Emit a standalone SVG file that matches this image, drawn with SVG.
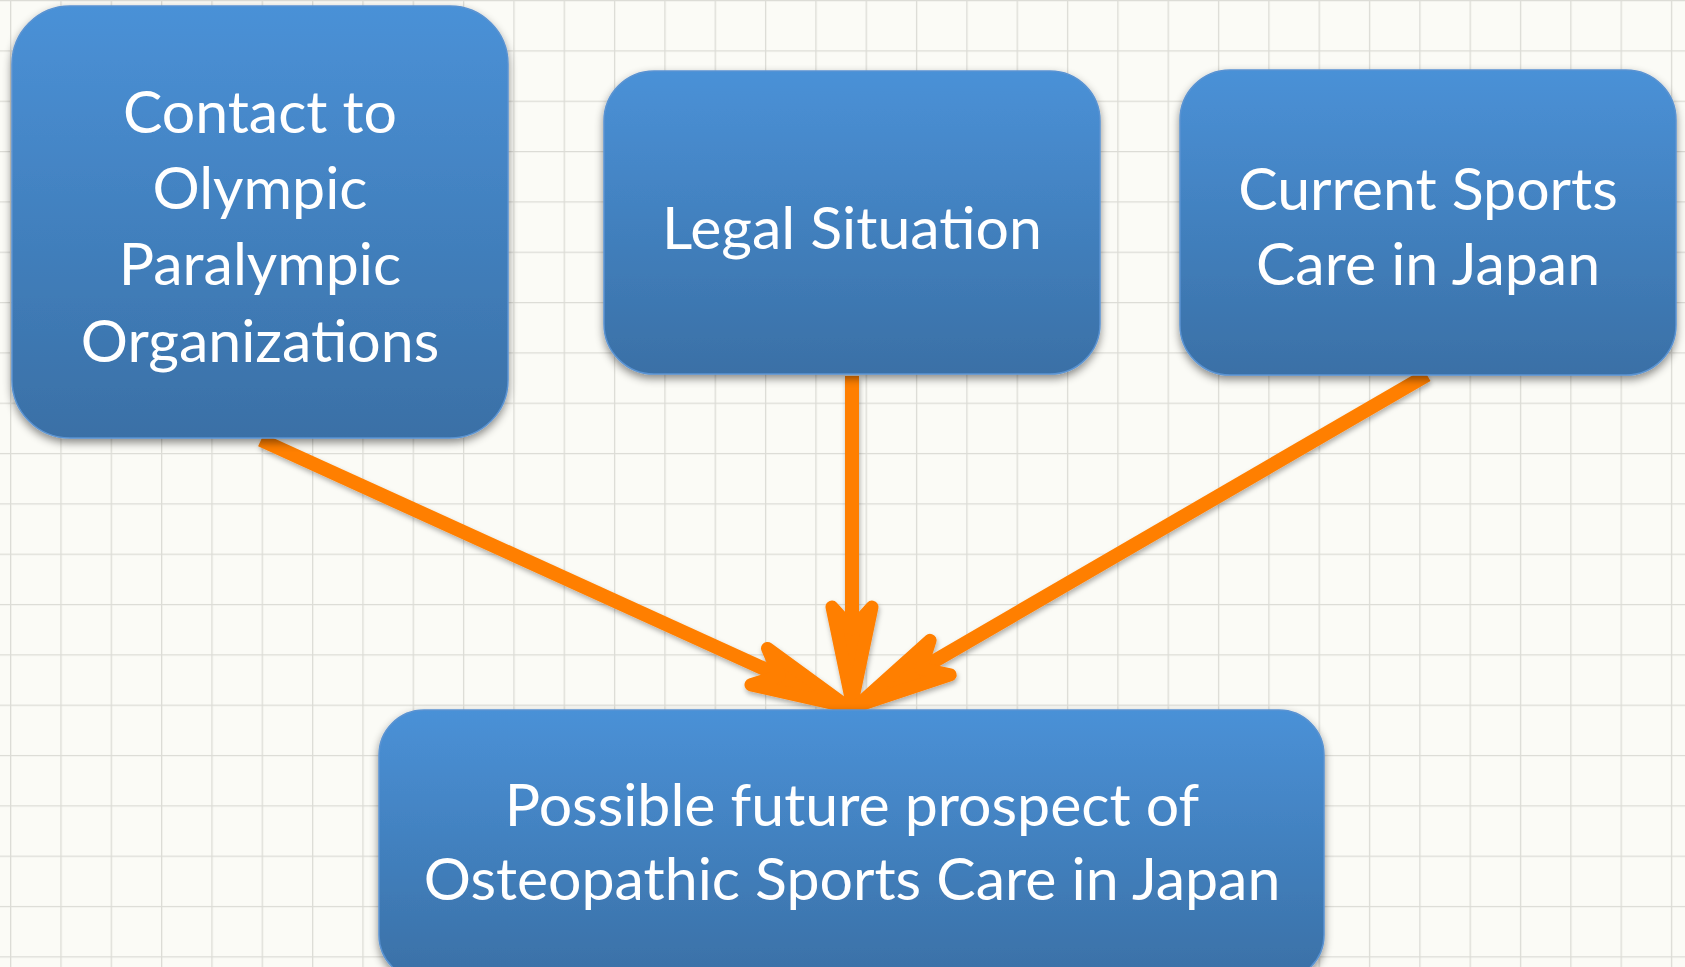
<svg xmlns="http://www.w3.org/2000/svg" width="1685" height="967" viewBox="0 0 1685 967">
<style>
.box{fill:url(#boxGrad);stroke:#5a93d2;stroke-width:1.5;filter:url(#shadow)}
.lbl{font-family:Lato,"Open Sans","Liberation Sans",sans-serif;font-size:59px;fill:#ffffff;text-anchor:middle}
.conn{fill:none;stroke:#ff7f00;stroke-width:14;marker-end:url(#head)}
</style>
<defs>
<pattern id="grid" x="10" y="0" width="50.33" height="50.33" patternUnits="userSpaceOnUse">
<rect width="50.33" height="50.33" fill="#fbfbf6"/>
<path d="M0.5,0 V50.33 M0,0.5 H50.33" stroke="#dcdcd6" stroke-width="1.6" fill="none"/>
</pattern>
<linearGradient id="boxGrad" x1="0" y1="0" x2="0" y2="1">
<stop offset="0" stop-color="#4a91d7"/>
<stop offset="1" stop-color="#3a70a6"/>
</linearGradient>
<filter id="shadow" x="-10%" y="-10%" width="120%" height="130%">
<feDropShadow dx="0" dy="4" stdDeviation="4" flood-color="#000" flood-opacity="0.45"/>
</filter>
<filter id="ashadow" x="-10%" y="-10%" width="120%" height="130%">
<feDropShadow dx="1" dy="3" stdDeviation="2.5" flood-color="#000" flood-opacity="0.3"/>
</filter>
<marker id="head" markerUnits="userSpaceOnUse" orient="auto" refX="0" refY="0" markerWidth="200" markerHeight="200" overflow="visible">
<path d="M74,0 L-22,-20 L0,0 L-22,20 Z" fill="#ff7f00" stroke="#ff7f00" stroke-width="13" stroke-linejoin="round"/>
</marker>
</defs>
<rect x="0" y="0" width="1685" height="967" fill="url(#grid)"/>

<g id="connectors" filter="url(#ashadow)">
<path class="conn" d="M261,440 L779.3,675.7"/>
<path class="conn" d="M852,376 L852,629"/>
<path class="conn" d="M1427,375 L921.1,668.7"/>
</g>

<g id="node-contact">
<rect class="box" x="12" y="6" width="496" height="432" rx="58" ry="58"/>
<text class="lbl" x="260" y="133">Contact to</text>
<text class="lbl" x="260" y="209">Olympic</text>
<text class="lbl" x="260" y="285">Paralympic</text>
<text class="lbl" x="260" y="362">Organizations</text>
</g>

<g id="node-legal">
<rect class="box" x="604" y="71" width="496" height="303" rx="50" ry="50"/>
<text class="lbl" x="852" y="249">Legal Situation</text>
</g>

<g id="node-current">
<rect class="box" x="1180" y="70" width="496" height="305" rx="50" ry="50"/>
<text class="lbl" x="1428" y="210">Current Sports</text>
<text class="lbl" x="1428" y="285">Care in Japan</text>
</g>

<g id="node-future">
<rect class="box" x="379" y="710" width="945" height="270" rx="45" ry="45"/>
<text class="lbl" x="852" y="826">Possible future prospect of</text>
<text class="lbl" x="852" y="900">Osteopathic Sports Care in Japan</text>
</g>
</svg>
